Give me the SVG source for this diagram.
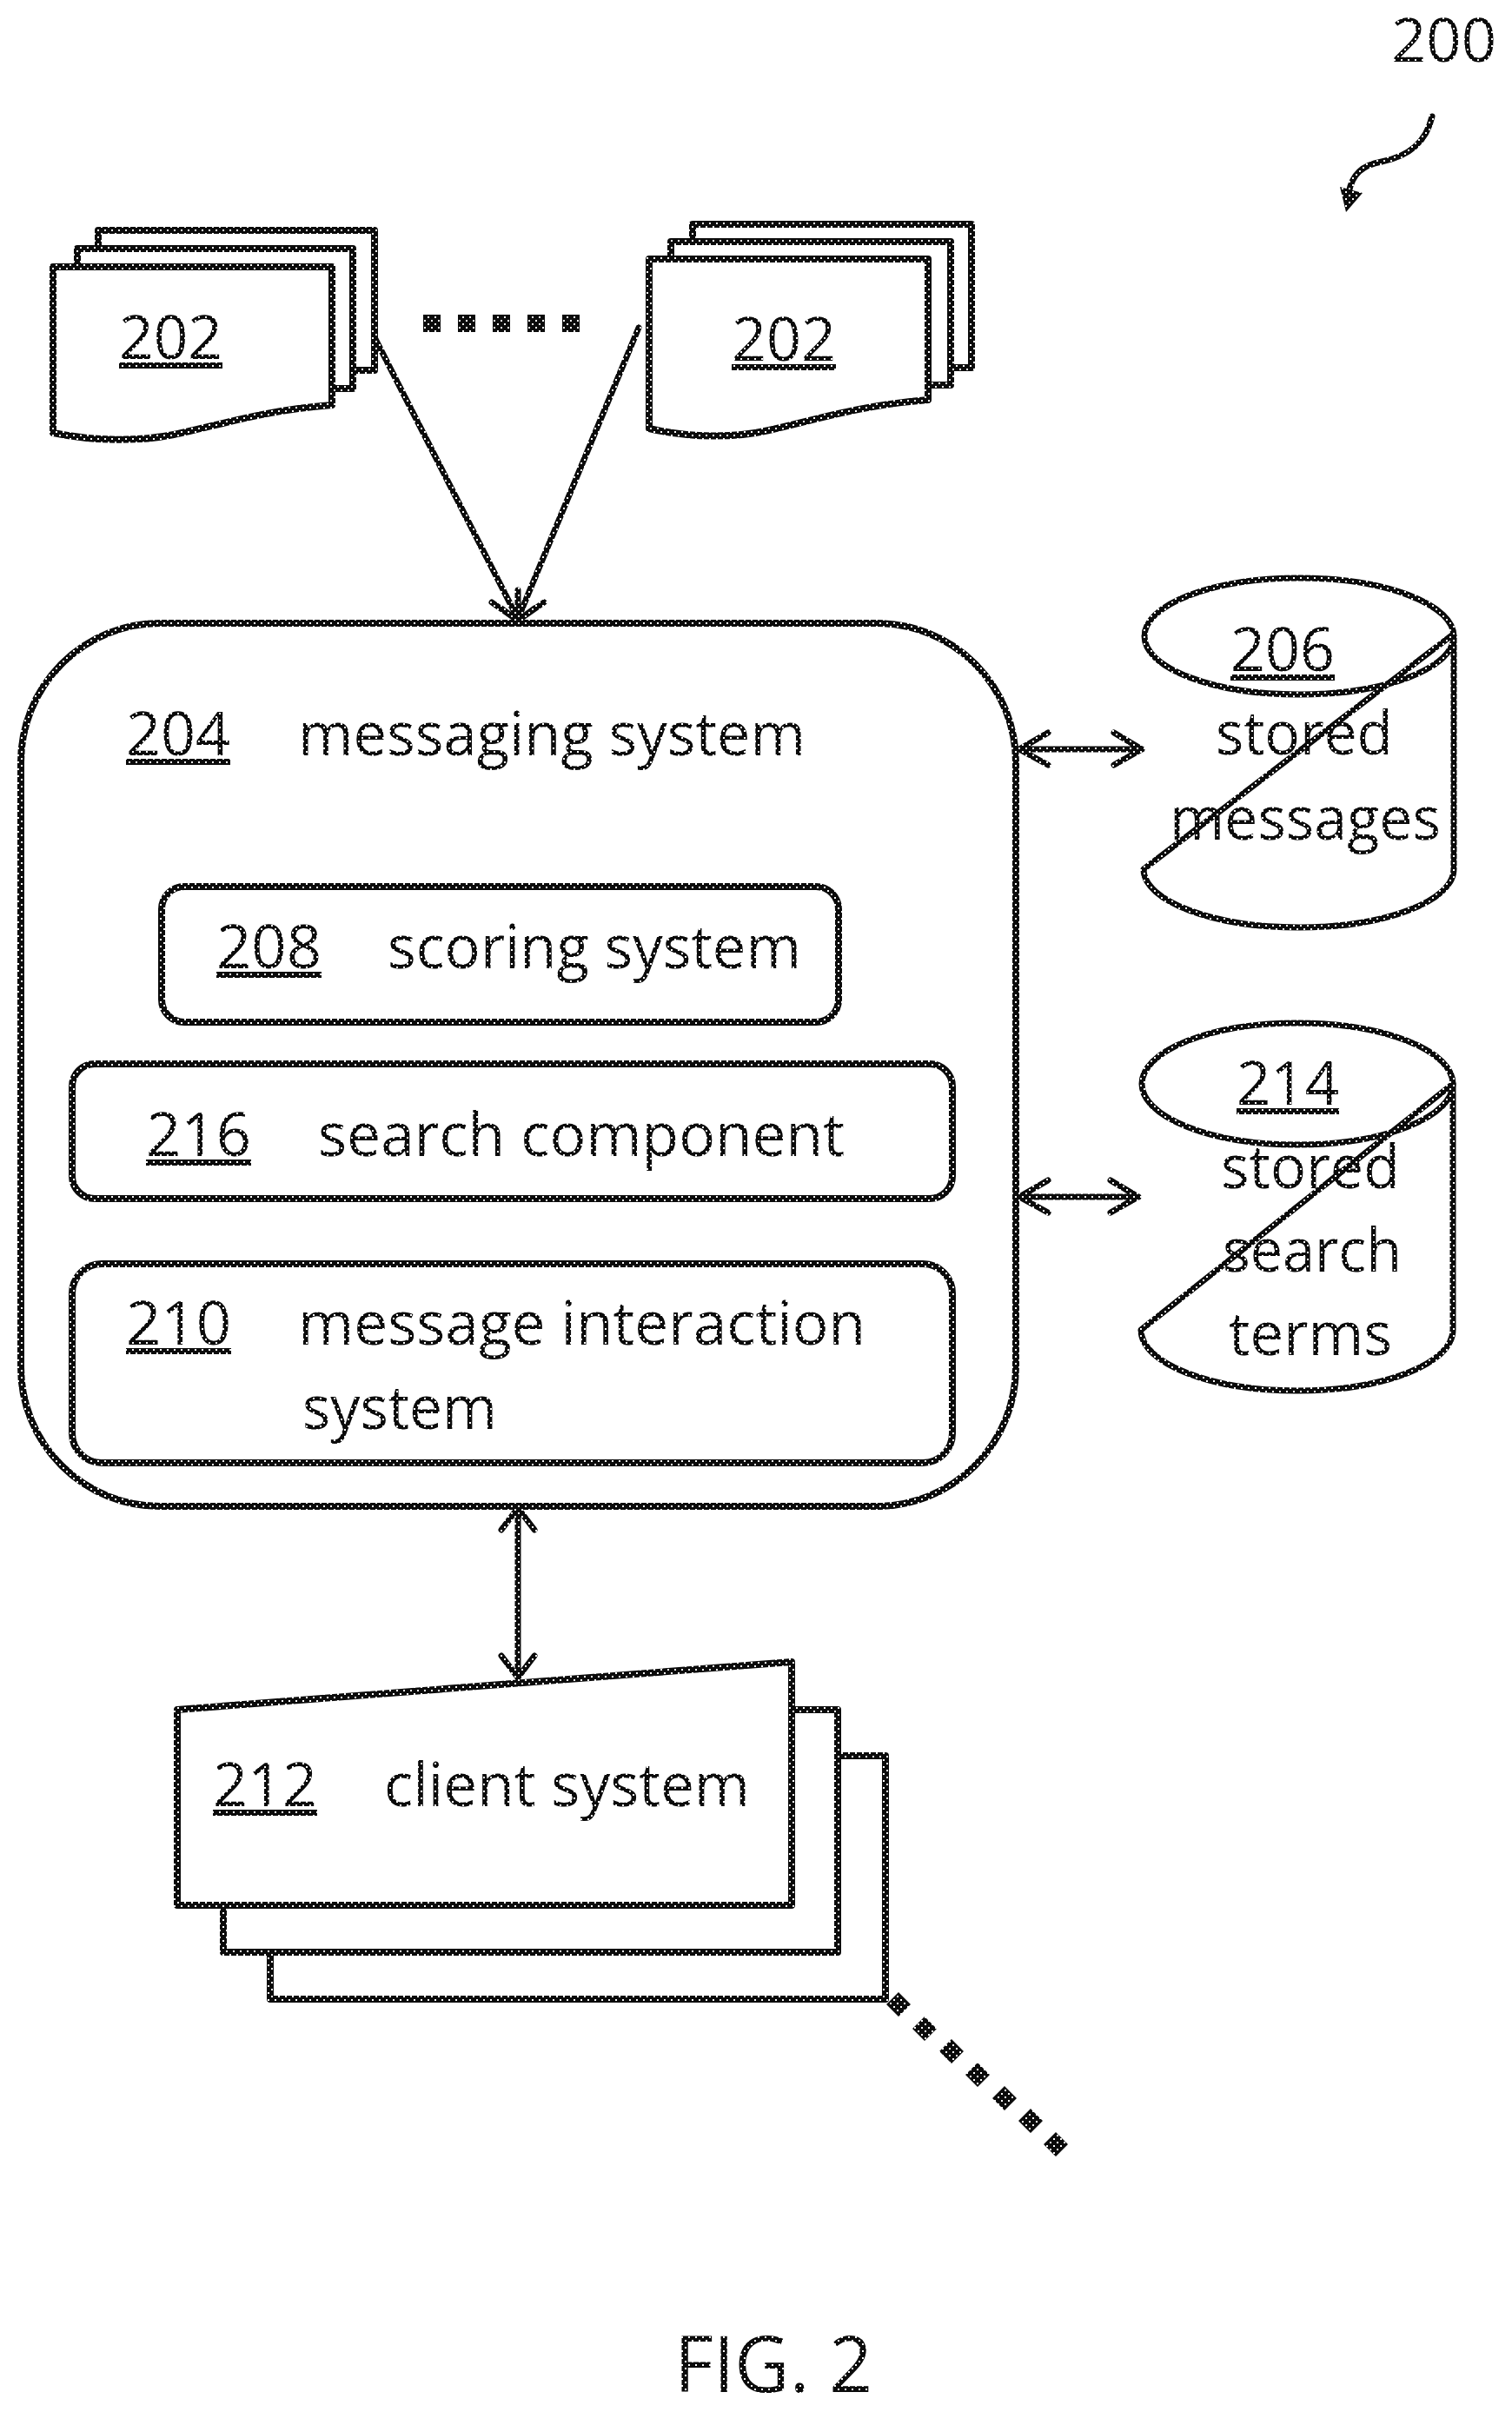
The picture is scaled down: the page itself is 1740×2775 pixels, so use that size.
<svg xmlns="http://www.w3.org/2000/svg" width="1740" height="2775" viewBox="0 0 1740 2775">
<style>
.s{fill:#fff;stroke:url(#ht);stroke-width:8;stroke-linejoin:round}
.o{fill:none;stroke:url(#ht);stroke-width:7;stroke-linecap:round;stroke-linejoin:round}
.t{font-family:"Open Sans","Noto Sans","Liberation Sans",sans-serif;font-size:70px;font-weight:400;fill:url(#ht);stroke:none}
.k{fill:url(#ht);stroke:none}
</style>
<defs>
<pattern id="ht" patternUnits="userSpaceOnUse" width="8" height="8">
<rect width="8" height="8" fill="#0b0b0b"/>
<rect x="0" y="0" width="2" height="2" fill="#fff"/>
<rect x="4" y="4" width="2" height="2" fill="#fff"/>
</pattern>
</defs>
<rect width="1740" height="2775" fill="#fff"/>
<g id="connectors">
<path class="o" d="M431 388L596 712M735 377L596 712"/>
<path class="o" d="M566 693L596 714L626 693M596 679V712M577 700L596 714L615 700"/>
<path class="o" d="M1173 862H1314M1206 843L1173 862L1206 880M1282 843L1314 862L1282 880"/>
<path class="o" d="M1173 1377H1310M1206 1358L1173 1377L1206 1395M1278 1358L1310 1377L1278 1395"/>
<path class="o" d="M596 1735V1930M577 1760L596 1735L615 1760M577 1905L596 1930L615 1905"/>
</g>
<g id="ref200">
<text class="t" x="1601" y="71" textLength="121" lengthAdjust="spacingAndGlyphs">200</text>
<path class="o" d="M1648 134C1641 165 1620 180 1590 186C1568 190 1556 200 1552 222"/>
<path class="k" d="M1542 215L1568 222L1549 244Z"/>
</g>
<g id="node-202-left">
<path class="s" d="M113 265H431V426H113Z"/>
<path class="s" d="M89 286H406V447H89Z"/>
<path class="s" d="M61 307H382V466C302 472 250 490 200 500C160 508 110 508 61 498Z"/>
<text class="t" x="137" y="413" textLength="119" lengthAdjust="spacingAndGlyphs" text-decoration="underline">202</text>
</g>
<g id="dots-top" class="k">
<rect x="487" y="362" width="20" height="20"/><rect x="527" y="362" width="20" height="20"/><rect x="567" y="362" width="20" height="20"/><rect x="607" y="362" width="20" height="20"/><rect x="647" y="362" width="20" height="20"/>
</g>
<g id="node-202-right">
<path class="s" d="M797 258H1118V423H797Z"/>
<path class="s" d="M772 278H1094V443H772Z"/>
<path class="s" d="M747 298H1068V460C990 466 935 484 885 495C845 504 795 504 747 493Z"/>
<text class="t" x="842" y="415" textLength="120" lengthAdjust="spacingAndGlyphs" text-decoration="underline">202</text>
</g>
<g id="node-204">
<rect class="s" x="24" y="717" width="1145" height="1016" rx="160" ry="160"/>
<text class="t" x="145" y="869" textLength="120" lengthAdjust="spacingAndGlyphs" text-decoration="underline">204</text>
<text class="t" x="343" y="869" textLength="584" lengthAdjust="spacingAndGlyphs">messaging system</text>
</g>
<g id="node-208">
<rect class="s" x="186" y="1020" width="779" height="156" rx="26"/>
<text class="t" x="249" y="1114" textLength="121" lengthAdjust="spacingAndGlyphs" text-decoration="underline">208</text>
<text class="t" x="446" y="1114" textLength="476" lengthAdjust="spacingAndGlyphs">scoring system</text>
</g>
<g id="node-216">
<rect class="s" x="83" y="1224" width="1013" height="155" rx="26"/>
<text class="t" x="168" y="1330" textLength="121" lengthAdjust="spacingAndGlyphs" text-decoration="underline">216</text>
<text class="t" x="366" y="1330" textLength="606" lengthAdjust="spacingAndGlyphs">search component</text>
</g>
<g id="node-210">
<rect class="s" x="83" y="1454" width="1013" height="229" rx="34"/>
<text class="t" x="145" y="1547" textLength="121" lengthAdjust="spacingAndGlyphs" text-decoration="underline">210</text>
<text class="t" x="343" y="1547" textLength="653" lengthAdjust="spacingAndGlyphs">message interaction</text>
<text class="t" x="348" y="1644" textLength="224" lengthAdjust="spacingAndGlyphs">system</text>
</g>
<g id="node-206">
<path class="o" d="M1673 732V1000C1673 1037 1593 1067 1495 1067C1397 1067 1316 1037 1316 1000L1672 730"/>
<ellipse class="o" cx="1495" cy="732" rx="178" ry="67"/>
<text class="t" x="1416" y="772" textLength="120" lengthAdjust="spacingAndGlyphs" text-decoration="underline">206</text>
<text class="t" x="1399" y="868" textLength="204" lengthAdjust="spacingAndGlyphs">stored</text>
<text class="t" x="1346" y="966" textLength="312" lengthAdjust="spacingAndGlyphs">messages</text>
</g>
<g id="node-214">
<path class="o" d="M1672 1247V1530C1672 1569 1592 1600 1493 1600C1394 1600 1313 1569 1313 1530L1672 1247"/>
<ellipse class="o" cx="1493" cy="1247" rx="179" ry="70"/>
<text class="t" x="1423" y="1271" textLength="118" lengthAdjust="spacingAndGlyphs" text-decoration="underline">214</text>
<text class="t" x="1405" y="1367" textLength="206" lengthAdjust="spacingAndGlyphs">stored</text>
<text class="t" x="1407" y="1463" textLength="206" lengthAdjust="spacingAndGlyphs">search</text>
<text class="t" x="1414" y="1559" textLength="188" lengthAdjust="spacingAndGlyphs">terms</text>
</g>
<g id="node-212">
<path class="s" d="M311 2020H1019V2300H311Z"/>
<path class="s" d="M257 1967H964V2246H257Z"/>
<path class="s" d="M204 1967L911 1912V2192H204Z"/>
<text class="t" x="245" y="2078" textLength="120" lengthAdjust="spacingAndGlyphs" text-decoration="underline">212</text>
<text class="t" x="442" y="2078" textLength="421" lengthAdjust="spacingAndGlyphs">client system</text>
</g>
<g id="dots-bottom" class="k">
<path d="M1034 2292l14 14l-14 14l-14-14ZM1064 2320l14 14l-14 14l-14-14ZM1095 2346l14 14l-14 14l-14-14ZM1125 2373l14 14l-14 14l-14-14ZM1156 2400l14 14l-14 14l-14-14ZM1186 2426l14 14l-14 14l-14-14ZM1215 2453l14 14l-14 14l-14-14Z"/>
</g>
<g id="caption">
<text class="t" x="776" y="2752" style="font-size:90px" textLength="228" lengthAdjust="spacingAndGlyphs">FIG. 2</text>
</g>
</svg>
